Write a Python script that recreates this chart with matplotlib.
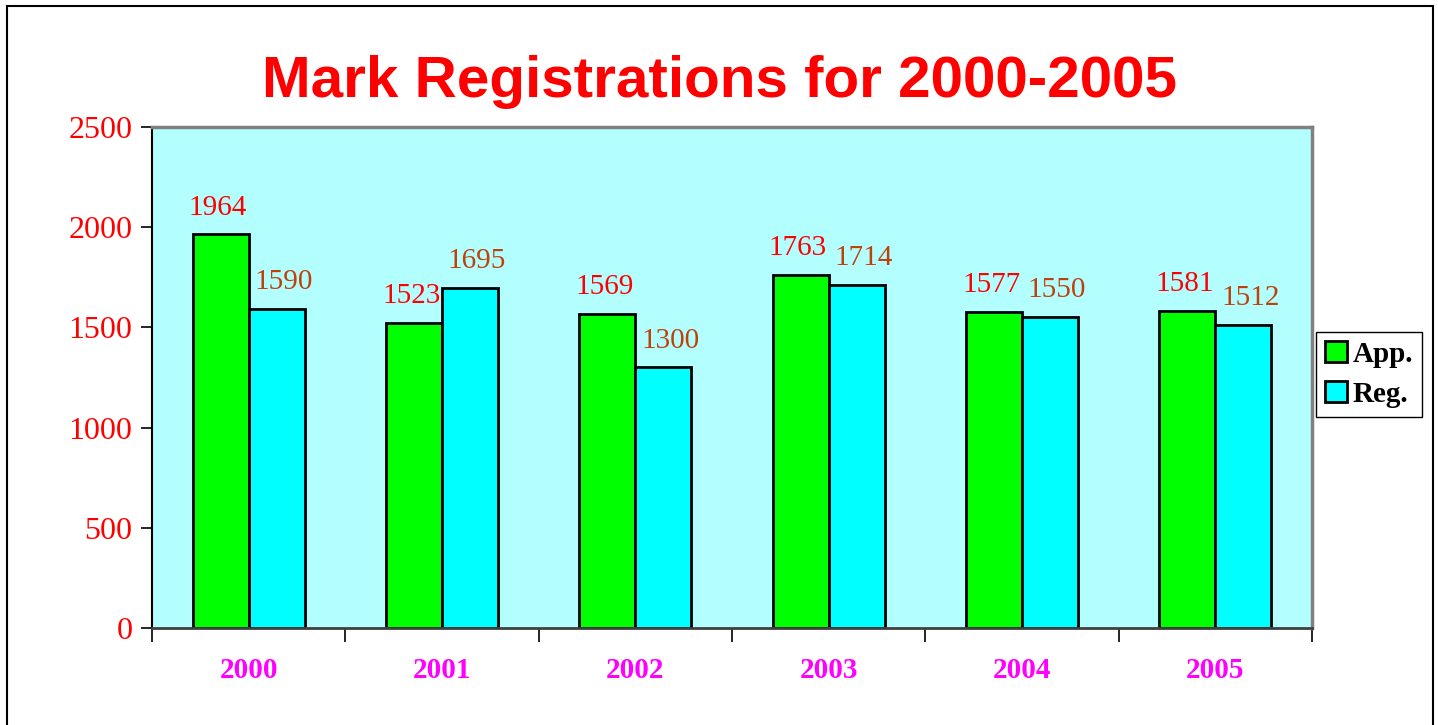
import matplotlib
matplotlib.use("Agg")
import matplotlib.pyplot as plt
from matplotlib.patches import Rectangle
import numpy as np

years = ["2000", "2001", "2002", "2003", "2004", "2005"]
app = [1964, 1523, 1569, 1763, 1577, 1581]
reg = [1590, 1695, 1300, 1714, 1550, 1512]
y_ticks = [0, 500, 1000, 1500, 2000, 2500]

fig = plt.figure(figsize=(14.38, 7.25), dpi=100)
ax = fig.add_axes([152 / 1438, 1 - 628 / 725, (1312 - 152) / 1438, (628 - 127) / 725])

# outer frame around the whole chart
fig.patches.append(Rectangle((7 / 1438, -0.02), (1433 - 7) / 1438, 1 - 6 / 725 + 0.02,
                             transform=fig.transFigure, fill=False,
                             edgecolor="black", linewidth=1.5))

x = np.arange(len(years))
w = 0.29
ax.set_facecolor("#B3FFFF")
b1 = ax.bar(x - w / 2, app, w, color="#00FF00", edgecolor="black", linewidth=2, label="App.")
b2 = ax.bar(x + w / 2, reg, w, color="#00FFFF", edgecolor="black", linewidth=2, label="Reg.")

serif = "Liberation Serif"
for rect, v in zip(b1, app):
    ax.annotate(str(v), (rect.get_x() + rect.get_width() / 2, v), xytext=(-2, 10),
                textcoords="offset points", ha="center", va="bottom",
                color="#FF0000", fontsize=21, family=serif)
for rect, v in zip(b2, reg):
    ax.annotate(str(v), (rect.get_x() + rect.get_width() / 2, v), xytext=(5, 10),
                textcoords="offset points", ha="center", va="bottom",
                color="#C0400A", fontsize=21, family=serif)

ax.set_xlim(-0.5, len(years) - 0.5)
ax.set_ylim(0, 2500)
ax.set_yticks(y_ticks)
ax.set_yticklabels([str(t) for t in y_ticks], color="#FF0000", fontsize=23, family=serif)
ax.tick_params(axis="y", length=8, width=1.2, pad=6)

ax.set_xticks(np.arange(-0.5, len(years), 1.0))
ax.set_xticklabels([])
ax.tick_params(axis="x", length=10, width=1.2)
for i, yr in enumerate(years):
    ax.text(i, -0.085, yr, transform=ax.get_xaxis_transform(), ha="center", va="center",
            color="#FF00FF", fontsize=21, fontweight="bold", family=serif)

ax.spines["left"].set_color("black")
ax.spines["left"].set_linewidth(1.5)
ax.spines["bottom"].set_color("#404040")
ax.spines["bottom"].set_linewidth(2)
for s in ["top", "right"]:
    ax.spines[s].set_color("#808080")
    ax.spines[s].set_linewidth(2.5)

fig.text(0.5, 1 - 82 / 725, "Mark Registrations for 2000-2005", ha="center", va="center",
         color="#FF0000", fontsize=42, fontweight="bold", family="Liberation Sans")

leg = ax.legend(loc="upper left", bbox_to_anchor=(1316 / 1438, 1 - 332 / 725),
                bbox_transform=fig.transFigure, borderaxespad=0, fancybox=False,
                framealpha=1, edgecolor="black", handlelength=0.75, handleheight=0.75,
                handletextpad=0.2, borderpad=0.3, labelspacing=0.45,
                prop={"family": serif, "weight": "bold", "size": 21})
leg.get_frame().set_linewidth(1)

fig.savefig("out.png", dpi=100, facecolor="white")
